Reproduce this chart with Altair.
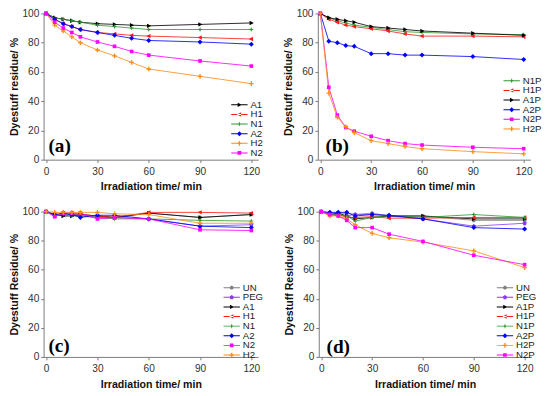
import altair as alt
import pandas as pd

# ---------------- data ----------------
t_ab = [0, 5, 10, 15, 20, 30, 40, 50, 60, 90, 120]
t_cd = [0, 5, 10, 15, 20, 30, 40, 60, 90, 120]

a_names = ["A1", "H1", "N1", "A2", "H2", "N2"]
a_A1 = [100, 97, 96, 95, 94, 93, 92.5, 92, 91.5, 92.5, 93.5]
a_H1 = [100, 96, 93, 91, 89, 87, 86, 85, 84.5, 83.5, 82.5]
a_N1 = [100, 97, 96, 95, 94, 92, 91, 90, 89, 89, 89]
a_A2 = [100, 96, 93, 91, 89, 87, 85, 83, 81.5, 80.5, 79]
a_H2 = [100, 92, 88, 84, 80, 75, 71, 66.5, 62, 57, 52]
a_N2 = [100, 94, 90, 87, 84, 80.5, 77.5, 74, 71.5, 67.5, 64]

b_names = ["N1P", "H1P", "A1P", "A2P", "N2P", "H2P"]
b_N1P = [100, 97, 95, 93.5, 92, 90.5, 89, 87.5, 87, 86, 85.5]
b_H1P = [100, 96, 94, 92, 91, 89.5, 88, 86, 84.5, 84.5, 84]
b_A1P = [100, 97, 96, 95, 94, 91, 90, 89, 88, 86.5, 85]
b_A2P = [100, 81, 80, 78, 77.5, 72.5, 72.5, 71.5, 71.5, 70.5, 68.5]
b_N2P = [100, 49.5, 30.5, 22, 19.5, 16, 13, 11, 10, 8.5, 7.5]
b_H2P = [100, 45.5, 29, 22.5, 18.5, 13, 11, 9, 7.5, 5.5, 4]

c_names = ["UN", "PEG", "A1", "H1", "N1", "A2", "N2", "H2"]
c_UN = [100, 98, 98, 98, 98, 97, 96, 99, 96, 98]
c_PEG = [100, 98, 98, 98, 97, 96, 96, 95, 90, 91]
c_A1 = [100, 98, 97, 97, 98, 97, 96, 99, 96, 98]
c_H1 = [100, 97, 99, 99, 98, 97, 96, 99.5, 99.5, 99]
c_N1 = [100, 98, 98, 97, 97, 96, 95, 95, 94, 93.5]
c_A2 = [100, 98, 99, 98, 96, 97.5, 97.5, 95, 90, 89]
c_N2 = [100, 96.5, 99, 99, 99, 95, 96, 95, 87.5, 87]
c_H2 = [100, 99.5, 99.5, 99.5, 99.5, 99.5, 98.5, 98, 92, 92]

d_names = ["UN", "PEG", "A1P", "H1P", "N1P", "A2P", "H2P", "N2P"]
d_UN = [100, 98, 98, 97, 98, 99, 97, 97, 94, 94]
d_PEG = [100, 99, 99, 99, 98, 98, 97, 95, 90, 92]
d_A1P = [100, 98, 99, 97, 95, 96, 97, 97, 95, 95]
d_H1P = [100, 98, 98, 96, 96, 96.5, 95.5, 95.5, 96, 96]
d_N1P = [100, 98, 98, 97, 93.5, 96, 97.5, 96, 98, 96]
d_A2P = [100, 99.5, 99.5, 99.5, 97, 98, 97.5, 95, 89, 88]
d_H2P = [100, 97, 97, 95, 91, 85, 82, 79, 73, 61.5]
d_N2P = [100, 98, 97, 94, 89, 89, 84.5, 79.5, 70, 63.5]

# ---------------- styles ----------------
COL = {"black": "#000000", "red": "#FF1A1A", "green": "#2E9A2E", "blue": "#0000FF",
       "orange": "#FF8C1A", "magenta": "#FF00FF", "gray": "#808080", "purple": "#8A3CF5"}

# marker outlines in pixels
MK = {
    "tri_r": [(-1.8, -2.3), (2.6, 0), (-1.8, 2.3)],
    "tri_l": [(1.8, -2.3), (-2.6, 0), (1.8, 2.3)],
    "star": [(0, -2.6), (0.7, -0.7), (2.6, 0), (0.7, 0.7), (0, 2.6), (-0.7, 0.7), (-2.6, 0), (-0.7, -0.7)],
    "diamond": [(0, -2.6), (2.6, 0), (0, 2.6), (-2.6, 0)],
    "plus": [(-2.4, -0.7), (-0.7, -0.7), (-0.7, -2.4), (0.7, -2.4), (0.7, -0.7), (2.4, -0.7),
             (2.4, 0.7), (0.7, 0.7), (0.7, 2.4), (-0.7, 2.4), (-0.7, 0.7), (-2.4, 0.7)],
    "square": [(-1.9, -1.9), (1.9, -1.9), (1.9, 1.9), (-1.9, 1.9)],
    "circle": [(0.8, -1.9), (1.9, -0.8), (1.9, 0.8), (0.8, 1.9), (-0.8, 1.9), (-1.9, 0.8),
               (-1.9, -0.8), (-0.8, -1.9)],
    "pent": [(0, -2.3), (2.2, -0.7), (1.4, 2.0), (-1.4, 2.0), (-2.2, -0.7)],
}
BAR_PX = [(-12, -0.5), (5, -0.5), (5, 0.5), (-12, 0.5)]
LEG_MK_DX = -3.5

STYLE = {
    "A1": ("black", "tri_r"), "A1P": ("black", "tri_r"),
    "H1": ("red", "tri_l"), "H1P": ("red", "tri_l"),
    "N1": ("green", "star"), "N1P": ("green", "star"),
    "A2": ("blue", "diamond"), "A2P": ("blue", "diamond"),
    "H2": ("orange", "plus"), "H2P": ("orange", "plus"),
    "N2": ("magenta", "square"), "N2P": ("magenta", "square"),
    "UN": ("gray", "circle"), "PEG": ("purple", "pent"),
}

SIZE = 100
UNIT = (SIZE ** 0.5) / 2  # pixels per path unit


def poly(pts, dx=0.0):
    s = "M" + "L".join(f"{(x + dx) / UNIT:.3f},{y / UNIT:.3f}" for x, y in pts)
    return s + "Z"


def long_df(times, names, values):
    rows = []
    for n, vals in zip(names, values):
        for t, v in zip(times, vals):
            rows.append({"t": t, "v": v, "s": n})
    return pd.DataFrame(rows)


def panel(times, names, values, ytitle, label, lx, ly, lab_x, lab_y, w, h):
    df = long_df(times, names, values)
    colors = [COL[STYLE[n][0]] for n in names]
    pshapes = [poly(MK[STYLE[n][1]]) for n in names]
    lshapes = [poly(BAR_PX) + poly(MK[STYLE[n][1]], LEG_MK_DX) for n in names]
    xenc = alt.X("t:Q", scale=alt.Scale(domain=[-1.5, 124], nice=False),
                 axis=alt.Axis(values=[0, 30, 60, 90, 120], title="Irradiation time/ min",
                               labelPadding=4, titlePadding=5))
    yenc = alt.Y("v:Q", scale=alt.Scale(domain=[0, 100], nice=False),
                 axis=alt.Axis(values=[0, 20, 40, 60, 80, 100], title=ytitle))
    cscale = alt.Scale(domain=names, range=colors)
    base = alt.Chart(df)
    lines = base.mark_line(strokeWidth=1, opacity=0.85).encode(
        x=xenc, y=yenc, detail="s:N",
        color=alt.Color("s:N", scale=cscale, legend=None),
        order=alt.Order("t:Q"))
    pts = base.mark_point(filled=True, opacity=1, size=SIZE).encode(
        x=xenc, y=yenc,
        color=alt.Color("s:N", scale=cscale, legend=None),
        shape=alt.Shape("s:N", scale=alt.Scale(domain=names, range=pshapes), legend=None))
    leg = alt.Legend(title=None, orient="none", legendX=lx, legendY=ly,
                     symbolSize=SIZE, symbolOpacity=1, symbolStrokeWidth=0,
                     labelFontSize=10, labelFont="Liberation Sans", labelColor="#222",
                     rowPadding=0, padding=0, labelOffset=3)
    legl = base.transform_filter("datum.t < -100").mark_point(filled=True, size=SIZE).encode(
        x=xenc, y=yenc,
        color=alt.Color("s:N", scale=cscale, legend=leg),
        shape=alt.Shape("s:N", scale=alt.Scale(domain=names, range=lshapes), legend=leg))
    txt = alt.Chart(pd.DataFrame({"lab": [label]})).mark_text(
        font="Liberation Serif", fontWeight="bold", fontSize=20, align="left",
        baseline="middle", color="#000").encode(
        x=alt.value(lab_x), y=alt.value(lab_y), text="lab:N")
    return alt.layer(lines, pts, legl, txt).resolve_scale(
        color="independent", shape="independent").properties(width=w, height=h)


pa = panel(t_ab, a_names, [a_A1, a_H1, a_N1, a_A2, a_H2, a_N2],
           "Dyestuff residue/ %", "(a)", 202, 90, 5, 138, 223, 152)
pb = panel(t_ab, b_names, [b_N1P, b_H1P, b_A1P, b_A2P, b_N2P, b_H2P],
           "Dyestuff residue/ %", "(b)", 200, 65, 8, 138, 221, 152)
pc = panel(t_cd, c_names, [c_UN, c_PEG, c_A1, c_H1, c_N1, c_A2, c_N2, c_H2],
           "Dyestuff Residue/ %", "(c)", 194, 74, 5, 140, 223, 151)
pd_ = panel(t_cd, d_names, [d_UN, d_PEG, d_A1P, d_H1P, d_N1P, d_A2P, d_H2P, d_N2P],
            "Dyestuff Residue/ %", "(d)", 192, 74, 8, 141, 221, 151)

chart = alt.vconcat(
    alt.hconcat(pa, pb, spacing=20).resolve_scale(color="independent", shape="independent"),
    alt.hconcat(pc, pd_, spacing=20).resolve_scale(color="independent", shape="independent"),
    spacing=15,
).resolve_scale(color="independent", shape="independent").properties(
    padding={"left": 0, "top": -7, "right": 0, "bottom": 0}
).configure_view(stroke=None).configure_axis(
    grid=False, tickSize=3, labelPadding=2, titlePadding=3,
    domainColor="#777", tickColor="#777", labelColor="#333",
    labelFont="Liberation Sans", titleFont="Liberation Sans",
    labelFontSize=10.5, titleFontSize=11, titleFontWeight="bold", titleColor="#111",
)

chart.save("out.html", embed_options={"renderer": "svg", "actions": False})
